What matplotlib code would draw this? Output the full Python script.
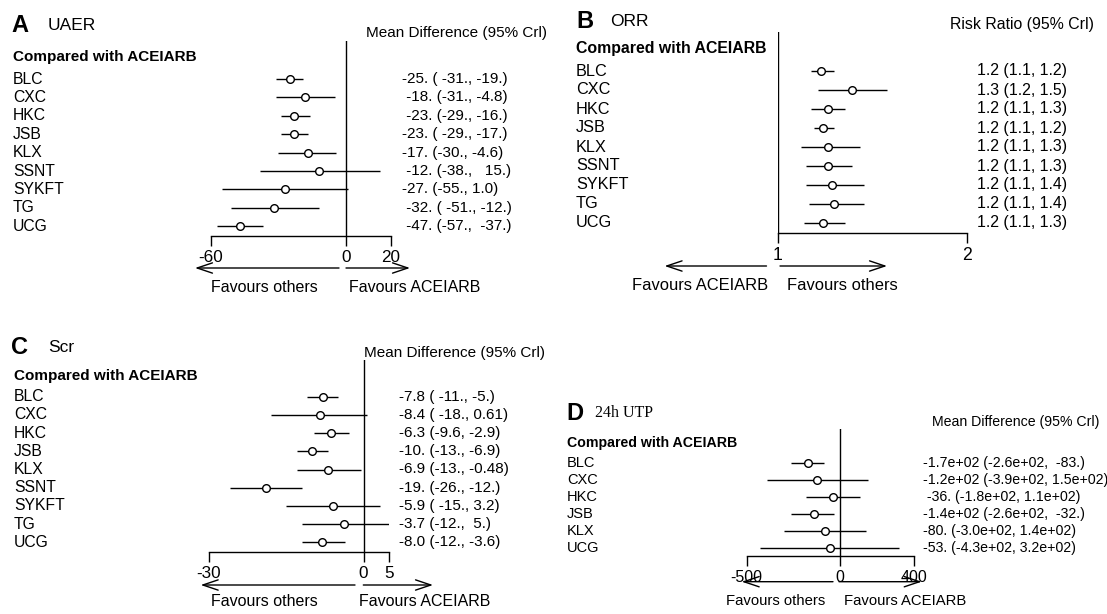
import numpy as np
import matplotlib
matplotlib.use('Agg')
import matplotlib.pyplot as plt
from matplotlib import transforms
from matplotlib.patches import FancyArrowPatch
from matplotlib.ticker import NullLocator

plt.rcParams['font.family'] = ['Liberation Sans', 'DejaVu Sans']
plt.rcParams['axes.unicode_minus'] = False

W, H = 1107, 614

# ---------------- data ----------------
names9 = ['BLC', 'CXC', 'HKC', 'JSB', 'KLX', 'SSNT', 'SYKFT', 'TG', 'UCG']
names6 = ['BLC', 'CXC', 'HKC', 'JSB', 'KLX', 'UCG']

# A  UAER (mean difference)
uaer_mean = [-25, -18, -23, -23, -17, -12, -27, -32, -47]
uaer_lo = [-31, -31, -29, -29, -30, -38, -55, -51, -57]
uaer_hi = [-19, -4.8, -16, -17, -4.6, 15, 1.0, -12, -37]
uaer_text = ['-25. ( -31., -19.)', ' -18. (-31., -4.8)', ' -23. (-29., -16.)',
             '-23. ( -29., -17.)', '-17. (-30., -4.6)', ' -12. (-38.,   15.)',
             '-27. (-55., 1.0)', ' -32. ( -51., -12.)', ' -47. (-57.,  -37.)']

# B  ORR (risk ratio, log scale)
orr_mean = [1.17, 1.31, 1.20, 1.18, 1.20, 1.20, 1.22, 1.23, 1.18]
orr_lo = [1.13, 1.16, 1.13, 1.14, 1.09, 1.11, 1.11, 1.12, 1.10]
orr_hi = [1.23, 1.49, 1.28, 1.23, 1.35, 1.31, 1.37, 1.37, 1.28]
orr_text = ['1.2 (1.1, 1.2)', '1.3 (1.2, 1.5)', '1.2 (1.1, 1.3)', '1.2 (1.1, 1.2)',
            '1.2 (1.1, 1.3)', '1.2 (1.1, 1.3)', '1.2 (1.1, 1.4)', '1.2 (1.1, 1.4)',
            '1.2 (1.1, 1.3)']

# C  Scr (mean difference)
scr_mean = [-7.8, -8.4, -6.3, -10, -6.9, -19, -5.9, -3.7, -8.0]
scr_lo = [-11, -18, -9.6, -13, -13, -26, -15, -12, -12]
scr_hi = [-5, 0.61, -2.9, -6.9, -0.48, -12, 3.2, 5, -3.6]
scr_text = ['-7.8 ( -11., -5.)', '-8.4 ( -18., 0.61)', '-6.3 (-9.6, -2.9)',
            '-10. (-13., -6.9)', '-6.9 (-13., -0.48)', '-19. (-26., -12.)',
            '-5.9 ( -15., 3.2)', '-3.7 (-12.,  5.)', '-8.0 (-12., -3.6)']

# D  24h UTP (mean difference)
utp_mean = [-170, -120, -36, -140, -80, -53]
utp_lo = [-260, -390, -180, -260, -300, -430]
utp_hi = [-83, 150, 110, -32, 140, 320]
utp_text = ['-1.7e+02 (-2.6e+02,  -83.)', '-1.2e+02 (-3.9e+02, 1.5e+02)',
            ' -36. (-1.8e+02, 1.1e+02)', '-1.4e+02 (-2.6e+02,  -32.)',
            '-80. (-3.0e+02, 1.4e+02)', '-53. (-4.3e+02, 3.2e+02)']


def fx(x):
    return x / W


def fy(y):
    return 1 - y / H


fig = plt.figure(figsize=(W / 100, H / 100), dpi=100)
fig.patch.set_facecolor('white')


def panel(letter, title, names, mean, lo, hi, texts, header, ticks, ref, g,
          left_lab, right_lab, fs=11, log=False, title_kw=None):
    n = len(names)
    ax = fig.add_axes([fx(g['x0']), fy(g['axis']), (g['x1'] - g['x0']) / W,
                       (g['axis'] - g['top']) / H])
    ax.patch.set_visible(False)
    if log:
        ax.set_xscale('log')
    ax.set_xlim(ticks[0], ticks[-1])
    ax.set_ylim((g['axis'] - g['row0']) / g['sp'], (g['top'] - g['row0']) / g['sp'])
    y = np.arange(n)

    # credible intervals and point estimates
    ax.hlines(y, lo, hi, color='black', lw=1.0)
    ax.plot(mean, y, 'o', mfc='white', mec='black', ms=5.5, mew=1.0, zorder=3)
    ax.axvline(ref, color='black', lw=1.0)

    for s in ['top', 'left', 'right']:
        ax.spines[s].set_visible(False)
    ax.spines['bottom'].set_bounds(ticks[0], ticks[-1])
    ax.spines['bottom'].set_linewidth(1.0)
    ax.set_yticks([])
    ax.set_xticks(ticks)
    ax.set_xticklabels([str(t) for t in ticks])
    ax.xaxis.set_minor_locator(NullLocator())
    ax.tick_params(axis='x', direction='out', length=7, width=1.0,
                   labelsize=fs + 1.3, pad=3)

    # row labels and estimate text, aligned to the rows
    trans = transforms.blended_transform_factory(fig.transFigure, ax.transData)
    for i in range(n):
        ax.text(fx(g['lx']), y[i], names[i], transform=trans, va='center',
                ha='left', fontsize=fs + 0.3)
        ax.text(fx(g['vx']), y[i], texts[i], transform=trans, va='center',
                ha='left', fontsize=fs)

    fig.text(fx(g['letx']), fy(g['ly']), letter, fontsize=17, fontweight='bold',
             va='center', ha='left')
    tk = dict(fontsize=12.5)
    if title_kw:
        tk.update(title_kw)
    fig.text(fx(g['titx']), fy(g['ly']), title, va='center', ha='left', **tk)
    fig.text(fx(g['lx']), fy(g['cy']), 'Compared with ACEIARB', fontsize=fs,
             fontweight='bold', va='center', ha='left')
    fig.text(fx(g['hx']), fy(g['hy']), header, fontsize=fs, va='center', ha='left')

    # favour arrows
    for a in (g['la'], g['ra']):
        fig.add_artist(FancyArrowPatch(
            (fx(a[0]), fy(g['ay'])), (fx(a[1]), fy(g['ay'])),
            transform=fig.transFigure, mutation_scale=10,
            arrowstyle='->,head_length=1.1,head_width=0.37', lw=1.0,
            color='black', shrinkA=0, shrinkB=0))
    fig.text(fx(g['fl']), fy(g['fy']), left_lab, fontsize=fs + 0.5,
             ha='center', va='center')
    fig.text(fx(g['fr']), fy(g['fy']), right_lab, fontsize=fs + 0.5,
             ha='center', va='center')
    return ax


gA = dict(x0=210.7, x1=391, top=41, axis=236, row0=79, sp=18.4, ay=268,
          la=(339, 195), ra=(346, 410), fy=287, fl=264, fr=415, lx=13, cy=57,
          letx=11, ly=25, titx=48, hx=366, hy=33, vx=402)
gB = dict(x0=778, x1=966.7, top=32, axis=233, row0=71, sp=19, ay=266,
          la=(766.5, 664.6), ra=(780, 887), fy=286, fl=700, fr=842, lx=576, cy=48,
          letx=576, ly=21, titx=610, hx=950, hy=24, vx=977)
gC = dict(x0=209, x1=389.3, top=360, axis=552.3, row0=396.7, sp=18.2, ay=585,
          la=(355, 200.7), ra=(363.3, 433), fy=601.7, fl=264, fr=425, lx=14, cy=376,
          letx=11, ly=348, titx=48, hx=364, hy=353, vx=399)
gD = dict(x0=746.7, x1=914, top=429.3, axis=556, row0=462.7, sp=17, ay=581.7,
          la=(833, 741.7), ra=(839, 921.7), fy=601, fl=776, fr=905, lx=567, cy=443,
          letx=566, ly=413, titx=595, hx=932, hy=422, vx=923)

panel('A', 'UAER', names9, uaer_mean, uaer_lo, uaer_hi, uaer_text,
      'Mean Difference (95% Crl)', [-60, 0, 20], 0, gA,
      'Favours others', 'Favours ACEIARB', fs=11)
panel('B', 'ORR', names9, orr_mean, orr_lo, orr_hi, orr_text,
      'Risk Ratio (95% Crl)', [1, 2], 1, gB,
      'Favours ACEIARB', 'Favours others', fs=11.4, log=True)
panel('C', 'Scr', names9, scr_mean, scr_lo, scr_hi, scr_text,
      'Mean Difference (95% Crl)', [-30, 0, 5], 0, gC,
      'Favours others', 'Favours ACEIARB', fs=11)
panel('D', '24h UTP', names6, utp_mean, utp_lo, utp_hi, utp_text,
      'Mean Difference (95% Crl)', [-500, 0, 400], 0, gD,
      'Favours others', 'Favours ACEIARB', fs=10.2,
      title_kw=dict(family=['Liberation Serif', 'DejaVu Serif'], fontsize=11.5))

fig.savefig('out.png', dpi=100, facecolor='white')
